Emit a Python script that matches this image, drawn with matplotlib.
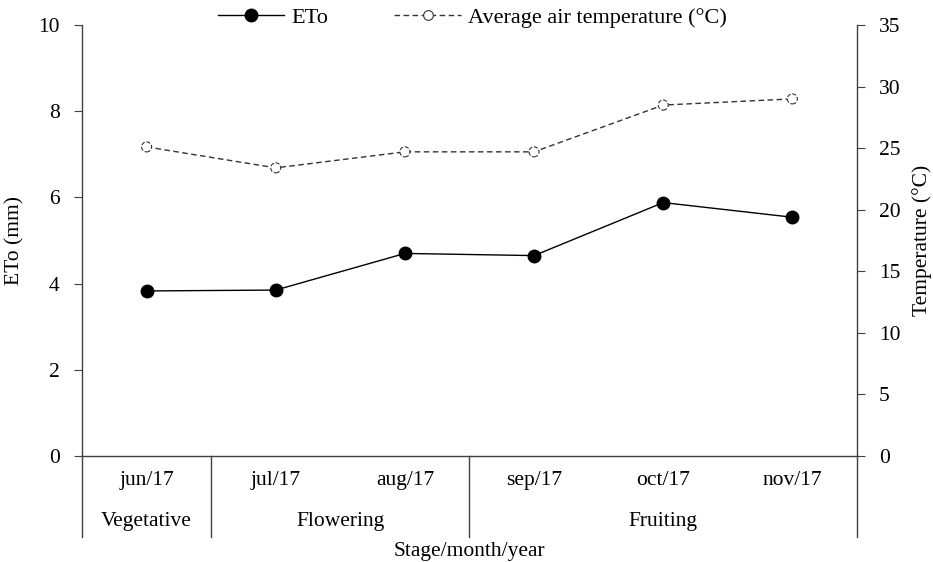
import matplotlib
matplotlib.use("Agg")
import matplotlib.pyplot as plt
import matplotlib.transforms as mtransforms
from matplotlib.lines import Line2D

months = ["jun/17", "jul/17", "aug/17", "sep/17", "oct/17", "nov/17"]
stages = ["Vegetative", "Flowering", "Fruiting"]
stage_spans = [(0, 1), (1, 3), (3, 6)]
eto = [3.83, 3.85, 4.70, 4.65, 5.88, 5.54]
temp = [25.1, 23.4, 24.7, 24.7, 28.5, 29.0]

plt.rcParams['font.family'] = ['Liberation Serif', 'DejaVu Serif']
plt.rcParams['font.size'] = 15.5

fig = plt.figure(figsize=(9.33, 5.62), dpi=100)
ax = fig.add_axes([0.0879, 0.1886, 0.9185 - 0.0879, 0.9555 - 0.1886])
ax2 = ax.twinx()

x = list(range(len(months)))
l1, = ax.plot(x, eto, color='black', lw=1.0, marker='o', ms=9,
              markerfacecolor='black', markeredgecolor='black', zorder=3)
l2, = ax2.plot(x, temp, color='#333333', lw=1.0, ls=(0, (4, 2.5)), zorder=2)
ax2.scatter(x, temp, s=52, facecolors='white', edgecolors='#333333',
            linewidths=0.8, linestyles='--', zorder=4)

ax.set_xlim(-0.5, 5.5)
ax.set_ylim(0, 10)
ax2.set_ylim(0, 35)
ax.set_yticks([0, 2, 4, 6, 8, 10])
ax2.set_yticks(range(0, 36, 5))

for a in (ax, ax2):
    a.spines['top'].set_visible(False)
    for s in a.spines.values():
        s.set_color('#404040')
        s.set_linewidth(1.0)
ax.spines['right'].set_visible(False)
ax2.spines['left'].set_visible(False)
ax2.spines['bottom'].set_visible(False)

ax.set_xticks([])
ax.tick_params(axis='y', direction='out', length=6, color='#404040', pad=10)
ax2.tick_params(axis='y', direction='out', length=6, color='#404040', pad=10)

ax.set_ylabel("ETo (mm)", labelpad=10)
ax2.set_ylabel("Temperature (°C)", labelpad=8)

trans = mtransforms.blended_transform_factory(ax.transData, ax.transAxes)
for i, m in enumerate(months):
    ax.text(i, -0.056, m, transform=trans, ha='center', va='center', clip_on=False)
for (s0, s1), st in zip(stage_spans, stages):
    ax.text((s0 + s1) / 2 - 0.5, -0.153, st, transform=trans, ha='center',
            va='center', clip_on=False)
bounds = sorted(set([b for sp in stage_spans for b in sp]))
for b in bounds:
    ax.add_line(Line2D([b - 0.5, b - 0.5], [0, -0.188], transform=trans,
                       color='#404040', lw=1.0, clip_on=False))
ax.text(0.5, -0.222, "Stage/month/year", transform=ax.transAxes, ha='center',
        va='center', clip_on=False)

h2 = Line2D([], [], color='#333333', lw=1.0, ls=(0, (4, 2.5)), marker='o',
            ms=7, markerfacecolor='white', markeredgecolor='#333333',
            markeredgewidth=0.8)
fig.legend([l1, h2], ["ETo", "Average air temperature (°C)"],
           loc='center', bbox_to_anchor=(0.506, 0.968), ncol=2, frameon=False,
           fontsize=16, handlelength=3.0, columnspacing=3.0, handletextpad=0.3)

fig.savefig("out.png", dpi=100)
